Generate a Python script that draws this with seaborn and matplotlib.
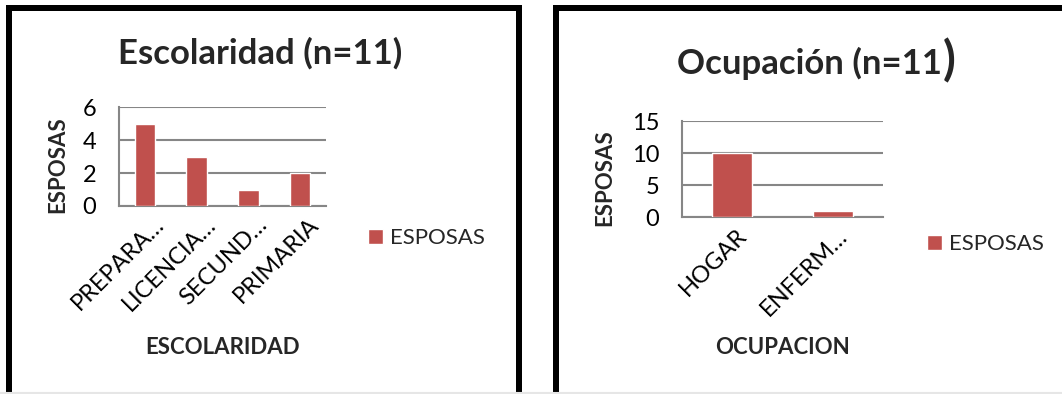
import matplotlib
matplotlib.use("Agg")
import matplotlib.pyplot as plt
import matplotlib.transforms as mtransforms
from matplotlib.patches import Patch
from matplotlib.lines import Line2D
import seaborn as sns

# data
esc_cats = ["PREPARA…", "LICENCIA…", "SECUND…", "PRIMARIA"]
esc_vals = [5, 3, 1, 2]
ocu_cats = ["HOGAR", "ENFERM…"]
ocu_vals = [10, 1]
series_name = "ESPOSAS"

bar_color = "#C0504D"
grid_color = "#868686"

sns.set_theme(style="white")
plt.rcParams["font.family"] = ["Lato", "DejaVu Sans"]

W, H = 1062, 394
fig = plt.figure(figsize=(W / 100, H / 100), dpi=100)
fig.patch.set_facecolor("white")


def rect(x0, x1, ytop, ybot):
    # pixel box -> figure fraction
    return [x0 / W, 1 - ybot / H, (x1 - x0) / W, (ybot - ytop) / H]


def draw_panel(box, cats, vals, ymax, ystep, xlab, ylab_xy, xlab_xy, leg_xy,
               tick_off):
    ax = fig.add_axes(rect(*box))
    sns.barplot(x=cats, y=vals, color=bar_color, width=0.4, ax=ax,
                saturation=1, zorder=3)
    ax.set_ylim(0, ymax)
    ax.set_yticks(range(0, ymax + 1, ystep))
    ax.set_xlim(-0.5, len(cats) - 0.5)
    ax.yaxis.grid(True, color=grid_color, linewidth=1.5, zorder=0)
    ax.set_axisbelow(True)
    for s in ["top", "right"]:
        ax.spines[s].set_visible(False)
    for s in ["left", "bottom"]:
        ax.spines[s].set_color(grid_color)
        ax.spines[s].set_linewidth(1.5)
    ax.tick_params(axis="y", length=6.5, width=1.1, color=grid_color,
                   pad=10, labelsize=17, labelcolor="black")
    ax.tick_params(axis="x", length=0, pad=2, labelsize=17, labelcolor="black")
    ax.set_xticks(range(len(cats)))
    ax.set_xticklabels(cats, rotation=45, ha="right", va="top",
                       rotation_mode="anchor")
    off = mtransforms.ScaledTranslation(tick_off[0] / 100, -tick_off[1] / 100,
                                        fig.dpi_scale_trans)
    for lab in ax.get_xticklabels():
        lab.set_transform(lab.get_transform() + off)

    ax.set_ylabel(series_name, fontsize=16, fontweight="bold", va="center")
    ax.yaxis.set_label_coords(ylab_xy[0] / W, 1 - ylab_xy[1] / H,
                              transform=fig.transFigure)
    ax.set_xlabel(xlab, fontsize=16, fontweight="bold", va="center")
    ax.xaxis.set_label_coords(xlab_xy[0] / W, 1 - xlab_xy[1] / H,
                              transform=fig.transFigure)

    ax.legend(handles=[Patch(facecolor=bar_color, label=series_name)],
              loc="center left", bbox_to_anchor=(leg_xy[0] / W, 1 - leg_xy[1] / H),
              bbox_transform=fig.transFigure, frameon=False, fontsize=16,
              handlelength=0.68, handleheight=0.68, handletextpad=0.3,
              borderpad=0, borderaxespad=0)
    return ax


draw_panel((119, 326, 107, 206), esc_cats, esc_vals, 6, 2, "ESCOLARIDAD",
           (58, 165), (223, 348), (368, 238), (8, 5))
draw_panel((682, 883, 121, 217), ocu_cats, ocu_vals, 15, 5, "OCUPACION",
           (605, 178), (782, 348), (927, 244), (4, 5))

# titles
fig.text(260 / W, 1 - 53 / H, "Escolaridad (n=11)", fontsize=25,
         fontweight="bold", ha="center", va="center")
t2 = fig.text(677 / W, 1 - 63 / H, "Ocupación (n=11", fontsize=25,
              fontweight="bold", ha="left", va="center")
fig.canvas.draw()
bb = t2.get_window_extent()
fig.text(bb.x1 / W + 1 / W, 1 - 61 / H, ")", fontsize=34, ha="left",
         va="center", fontweight="bold")

# panel frames (Excel chart borders)
lw = 6 * 72 / 100
fig.add_artist(Line2D([8.5 / W, 8.5 / W, 518.5 / W, 518.5 / W],
                      [0, 1 - 7.5 / H, 1 - 7.5 / H, 0],
                      transform=fig.transFigure, color="black", linewidth=lw,
                      solid_joinstyle="miter"))
fig.add_artist(Line2D([555.5 / W, 555.5 / W, 1.0 + 0.01],
                      [0, 1 - 8 / H, 1 - 8 / H],
                      transform=fig.transFigure, color="black", linewidth=lw,
                      solid_joinstyle="miter"))
fig.add_artist(Line2D([0, 1], [1 - 392.5 / H, 1 - 392.5 / H],
                      transform=fig.transFigure, color="#e6e6e6", linewidth=1.5))

fig.savefig("out.png", dpi=100, facecolor="white")
